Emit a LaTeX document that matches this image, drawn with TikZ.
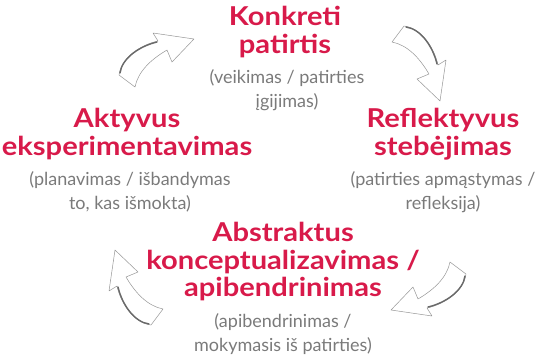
\documentclass[tikz,border=0pt]{standalone}
\usepackage{fontspec}
\setmainfont{Lato}
\newfontfamily\headfont[FakeStretch=1.12]{Lato}
\usetikzlibrary{positioning}
\definecolor{kolbred}{RGB}{216,26,74}
\definecolor{kolbgray}{RGB}{122,122,122}
\definecolor{arrgray}{RGB}{105,105,105}

\tikzset{
  head/.style={align=center, text=kolbred, inner sep=0pt,
    font=\headfont\fontsize{26}{27.5}\selectfont\bfseries},
  sub/.style={align=center, text=kolbgray, inner sep=0pt,
    font=\fontsize{18}{23.5}\selectfont},
  pics/cyclearrow/.style={code={
    %body of the arrow
    \fill[white] (-8,-6) .. controls (-6,-23) and (13,-36) .. (31,-40)
      -- (26,-48) -- (67,-42) -- (45,-19) -- (40,-31)
      .. controls (23,-21) and (11,-9) .. (8,6) -- cycle;
    \draw[arrgray!70, line width=0.5pt, line join=round] (-8,-6) .. controls (-6,-23) and (13,-36) .. (31,-40)
      -- (26,-48) -- (67,-42) -- (45,-19) -- (40,-31)
      .. controls (23,-21) and (11,-9) .. (8,6) -- cycle;
    %darker outer edge
    \draw[arrgray, line width=1.4pt, line cap=round] (-7,-8) .. controls (-5,-23) and (13,-35) .. (30,-39);
  }}
}

\begin{document}
\begin{tikzpicture}[x=1pt, y=-1pt]
  \useasboundingbox (0,0) rectangle (544,357);

  %Stages of the cycle
  \node[head] (konkr) at (285,32) {Konkreti\\patirtis};
  \node[sub] (konkrsub) at (287,90) {(veikimas / patirties\\įgijimas)};

  \node[head] (refl) at (443,134) {Reflektyvus\\stebėjimas};
  \node[sub] (reflsub) at (443,192) {(patirties apmąstymas /\\refleksija)};

  \node[head] (abstr) at (283,262) {Abstraktus\\konceptualizavimas /\\apibendrinimas};
  \node[sub] (abstrsub) at (283,334) {(apibendrinimas /\\mokymasis iš patirties)};

  \node[head] (akt) at (127,134) {Aktyvus\\eksperimentavimas};
  \node[sub] (aktsub) at (130,192) {(planavimas / išbandymas\\to, kas išmokta)};

  %Curved arrows between the stages
  \pic (arrtl) at (127,81) {cyclearrow};
  \pic[rotate=-90] (arrtr) at (398,34) {cyclearrow};
  \pic[rotate=180] (arrbr) at (458,268) {cyclearrow};
  \pic[rotate=90] (arrbl) at (157,317) {cyclearrow};
\end{tikzpicture}
\end{document}
